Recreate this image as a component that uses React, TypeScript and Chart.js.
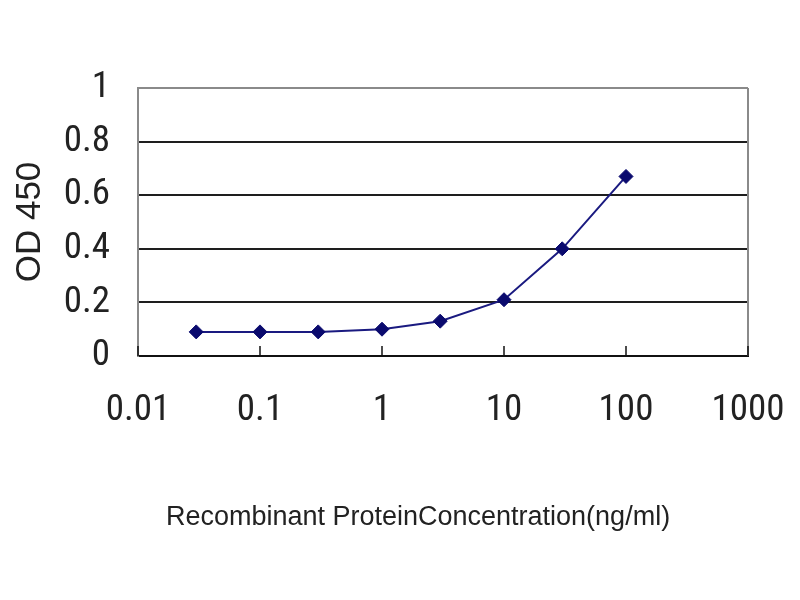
import React, { useEffect, useRef } from "react";
import { Chart, registerables } from "chart.js";

Chart.register(...registerables);

const concentrations = [0.03, 0.1, 0.3, 1, 3, 10, 30, 100];
const odValues = [0.09, 0.09, 0.09, 0.1, 0.13, 0.21, 0.4, 0.67];
const xTickValues = [0.01, 0.1, 1, 10, 100, 1000];
const yTickValues = [0, 0.2, 0.4, 0.6, 0.8, 1];
const xTitle = "Recombinant ProteinConcentration(ng/ml)";
const yTitle = "OD 450";

const TICK_FONT = "'Roboto Condensed', 'Liberation Sans', Arial, sans-serif";
const TITLE_FONT = "'Liberation Sans', Arial, sans-serif";

const framePlugin = {
  id: "frame",
  beforeDatasetsDraw(chart: any) {
    const { ctx, chartArea, scales } = chart;
    const { right, top, bottom } = chartArea;
    ctx.save();
    ctx.strokeStyle = "#8a8a8a";
    ctx.lineWidth = 2;
    ctx.beginPath();
    ctx.moveTo(right, top);
    ctx.lineTo(right, bottom);
    ctx.stroke();
    ctx.strokeStyle = "#111";
    ctx.lineWidth = 1.5;
    scales.x.ticks.forEach((t: any) => {
      const px = scales.x.getPixelForValue(t.value);
      ctx.beginPath();
      ctx.moveTo(px, bottom);
      ctx.lineTo(px, bottom - 10);
      ctx.stroke();
    });
    ctx.restore();
  },
  afterDraw(chart: any) {
    const { ctx, chartArea } = chart;
    ctx.save();
    ctx.fillStyle = "#222";
    ctx.font = "27px " + TITLE_FONT;
    ctx.textAlign = "center";
    ctx.textBaseline = "middle";
    const cx = (chartArea.left + chartArea.right) / 2 - 25;
    ctx.fillText(xTitle, cx, chartArea.bottom + 162);
    ctx.restore();
  },
};

export default function App() {
  const ref = useRef<HTMLCanvasElement | null>(null);
  useEffect(() => {
    if (!ref.current) return;
    const chart = new Chart(ref.current, {
      type: "line",
      data: {
        datasets: [
          {
            data: concentrations.map((c, i) => ({ x: c, y: odValues[i] })),
            borderColor: "#1a1a80",
            backgroundColor: "#0a0a6e",
            borderWidth: 2,
            pointStyle: "rectRot",
            pointRadius: 7,
            pointBorderWidth: 1,
            pointBorderColor: "#0a0a6e",
            tension: 0,
          },
        ],
      },
      options: {
        animation: false,
        responsive: false,
        maintainAspectRatio: false,
        layout: { padding: { top: 88, right: 52, bottom: 70, left: 0 } },
        plugins: { legend: { display: false }, tooltip: { enabled: false } },
        scales: {
          x: {
            type: "logarithmic",
            min: 0.01,
            max: 1000,
            afterBuildTicks: (scale: any) => {
              scale.ticks = xTickValues.map((v) => ({ value: v }));
            },
            afterFit: (scale: any) => {
              scale.height = 600 - 70 - 356;
              scale.paddingLeft = 0;
              scale.paddingRight = 0;
            },
            grid: { display: false, drawTicks: false },
            border: { display: true, color: "#111", width: 2 },
            ticks: {
              autoSkip: false,
              maxRotation: 0,
              padding: 33,
              color: "#222",
              font: { family: TICK_FONT, size: 37 },
              callback: (v: any) => String(v),
            },
          },
          y: {
            min: 0,
            max: 1,
            afterBuildTicks: (scale: any) => {
              scale.ticks = yTickValues.map((v) => ({ value: v }));
            },
            afterFit: (scale: any) => {
              scale.width = 138;
              scale.paddingTop = 0;
              scale.paddingBottom = 0;
            },
            grid: {
              drawTicks: false,
              lineWidth: 2,
              color: (c: any) => (c.tick && c.tick.value === 1 ? "#8a8a8a" : "#1e1e1e"),
            },
            border: { display: true, color: "#8a8a8a", width: 2 },
            ticks: {
              padding: 28,
              color: "#222",
              font: { family: TICK_FONT, size: 37 },
              callback: (v: any) => String(Number(Number(v).toFixed(1))),
            },
            title: {
              display: true,
              text: yTitle,
              color: "#222",
              font: { family: TITLE_FONT, size: 35 },
              padding: { top: 9, bottom: 0 },
            },
          },
        },
      },
      plugins: [framePlugin],
    });
    return () => chart.destroy();
  }, []);
  return (
    <div style={{ position: "fixed", left: 0, top: 0, width: 800, height: 600, background: "#fff" }}>
      <canvas ref={ref} width={800} height={600} style={{ width: 800, height: 600 }} />
    </div>
  );
}
